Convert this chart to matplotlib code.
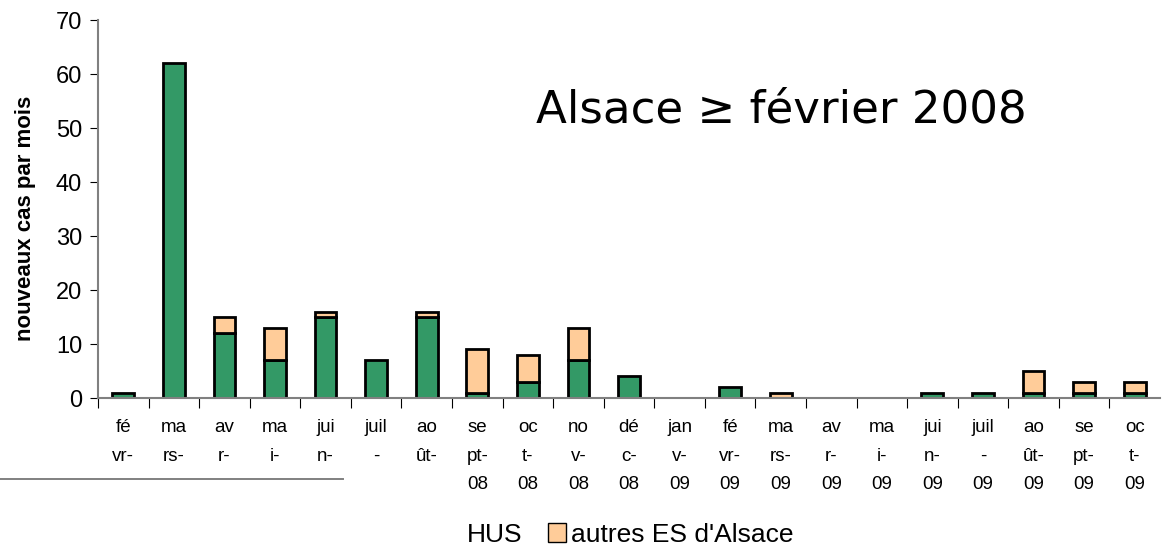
import matplotlib.pyplot as plt
import numpy as np
from matplotlib.patches import Patch
from matplotlib.lines import Line2D

plt.rcParams['font.family'] = ['Liberation Sans', 'DejaVu Sans']

# mois (étiquettes telles qu'affichées, coupées sur plusieurs lignes)
mois = ['fé\nvr-', 'ma\nrs-', 'av\nr-', 'ma\ni-', 'jui\nn-', 'juil\n-', 'ao\nût-',
        'se\npt-\n08', 'oc\nt-\n08', 'no\nv-\n08', 'dé\nc-\n08', 'jan\nv-\n09',
        'fé\nvr-\n09', 'ma\nrs-\n09', 'av\nr-\n09', 'ma\ni-\n09', 'jui\nn-\n09',
        'juil\n-\n09', 'ao\nût-\n09', 'se\npt-\n09', 'oc\nt-\n09']
hus = [1, 62, 12, 7, 15, 7, 15, 1, 3, 7, 4, 0, 2, 0, 0, 0, 1, 1, 1, 1, 1]
autres = [0, 0, 3, 6, 1, 0, 1, 8, 5, 6, 0, 0, 0, 1, 0, 0, 0, 0, 4, 2, 2]

green = '#339966'
orange = '#ffcc99'
grey = '#808080'

fig = plt.figure(figsize=(11.74, 5.48), dpi=100)
ax = fig.add_axes([0.0835, 0.2737, 0.9045, 0.6898])

x = np.arange(len(mois))
w = 0.43
# pas de contour pour les barres vides
lw_h = [2.0 if v > 0 else 0 for v in hus]
lw_a = [2.0 if v > 0 else 0 for v in autres]
ax.bar(x, hus, w, color=green, edgecolor='black', linewidth=lw_h)
ax.bar(x, autres, w, bottom=hus, color=orange, edgecolor='black', linewidth=lw_a)

ax.set_xlim(-0.5, len(mois) - 0.5)
ax.set_ylim(0, 70)
ax.set_yticks(range(0, 71, 10))
ax.tick_params(axis='y', labelsize=17, length=5.5, color='black', pad=6)

ax.set_xticks(x - 0.5, minor=False)
ax.set_xticks(x, minor=True)
ax.set_xticklabels([], minor=False)
ax.set_xticklabels(mois, minor=True, fontsize=13.5, linespacing=1.9, va='top')
ax.tick_params(axis='x', which='major', length=7, color='black')
ax.tick_params(axis='x', which='minor', length=0, pad=15)

for s in ['top', 'right']:
    ax.spines[s].set_visible(False)
for s in ['left', 'bottom']:
    ax.spines[s].set_color(grey)
    ax.spines[s].set_linewidth(1.5)

ax.set_ylabel('nouveaux cas par mois', fontsize=16, fontweight='bold')
ax.yaxis.set_label_coords(-0.058, 0.475)

ax.text(781 / 1174, 1 - 110 / 548, 'Alsace \u2265 février 2008', transform=fig.transFigure,
        fontsize=32.5, ha='center', va='center', family='DejaVu Sans')

handles = [Patch(facecolor='none', edgecolor='none'),
           Patch(facecolor=orange, edgecolor='black', linewidth=1)]
fig.legend(handles, ['HUS', "autres ES d'Alsace"], loc='center',
           bbox_to_anchor=(0.527, 0.024), ncol=2, frameon=False, fontsize=19,
           handlelength=0.7, handleheight=0.75, handletextpad=0.2, columnspacing=0.95,
           borderpad=0)

fig.add_artist(Line2D([0, 343 / 1174], [1 - 479 / 548] * 2, color=grey, linewidth=1.4))

fig.savefig('out.png', dpi=100)
